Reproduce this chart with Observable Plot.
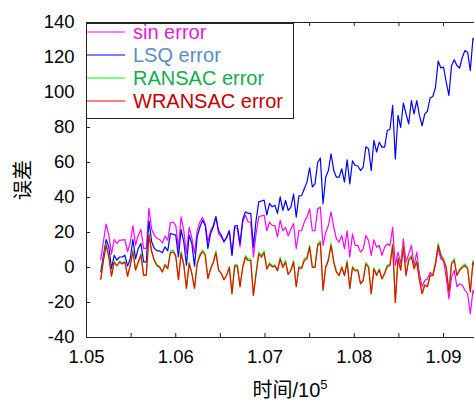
<!DOCTYPE html>
<html><head><meta charset="utf-8">
<script src="https://cdn.jsdelivr.net/npm/d3@7"></script>
<script src="https://cdn.jsdelivr.net/npm/@observablehq/plot@0.6"></script>
<style>
body{margin:0;background:#fff;}
#wrap{position:relative;width:474px;height:401px;overflow:hidden;font-family:"Liberation Sans",Arial,sans-serif;}
#legend{position:absolute;left:86px;top:23px;width:208px;height:96px;border:1px solid #222;background:#fff;box-sizing:border-box;}
.lrow{position:absolute;left:0;height:24px;display:flex;align-items:center;font-size:20px;white-space:nowrap;}
.lrow svg{display:block;margin-right:8px;}
#xlabel{position:absolute;top:380px;left:0;width:580px;text-align:center;font-size:20px;line-height:20px;font-family:"Liberation Sans","Noto Sans CJK SC",sans-serif;color:#000;}
#xlabel sup{font-size:13px;line-height:0;vertical-align:8px;}
#ylabel{position:absolute;left:22px;top:180px;transform:translate(-50%,-50%) rotate(-90deg);font-size:20px;line-height:20px;font-family:"Noto Sans CJK SC",sans-serif;color:#000;white-space:nowrap;}
</style></head><body><div id="wrap"></div>
<script>
// time grid (×10^5)
const t0 = 1.0516, dt = 0.0003;

const sinErr = [4.6, 15, 24.8, 18.5, 7.6, 16, 13.7, 15.6, 15.6, 16,
 9, 14, 24, 12.8, 18.5, 21.7, 10.9, 10.9, 34, 21.7,
 18.5, 16.6, 16, 14, 18, 15.6, 25.5, 26, 24, 11,
 29, 21, 8, 23, 17, 8, 21, 26, 28.6, 25,
 14.7, 21, 24, 29, 19.4, 17.5, 14.7, 17.5, 21, 7,
 23, 22, 11.8, 26, 30, 26, 26, 6, 19.4, 29,
 29.5, 30, 21, 26, 24, 24, 17.5, 27, 21, 23,
 18, 22, 25, 10.7, 21, 21, 26, 28.8, 33.5, 21,
 21, 33.5, 34.5, 12.6, 20, 24, 31.6, 23, 16.4, 14.5,
 18.3, 10.7, 21, 6, 19.2, 12.6, 12.6, 8.8, 10.7, 18.3,
 15.4, 6.9, 15.8, 11.6, 12.6, 6.9, 11.6, 13.5, 12.6, 23,
 1.1, 8.8, 2, 16.4, 3, 7.8, 12.6, 1.1, 8.8, -3.6,
 -11, -7.4, -6.5, -2.7, -4.6, 2, 10.7, 5, 4, -5.5,
 -18, -5.5, -1.7, -11, -9.3, -10, -13, -15, -26.5, -13,
 -16];

const lsqErr = [-2.5, 7, 16, 11.8, -0.6, 7, 4.2, 6, 6, 7,
 0.8, 5, 16, 5, 10.9, 13.7, 3.2, 3.2, 26.7, 14.7,
 10.9, 9.5, 9.5, 8.4, 11.8, 9.5, 19.4, 19, 18.5, 6,
 21.7, 14.7, 1.3, 18.5, 13.7, 0.8, 17.5, 23, 27, 24,
 10.9, 19.4, 23, 29, 21, 18.5, 14.7, 17, 21, 7,
 23.6, 24, 13.7, 27.4, 31.8, 30.9, 30.9, 11.8, 27, 37.5,
 38, 38.5, 30, 36.6, 34.7, 35.6, 30.9, 40.4, 32.6, 38.3,
 32.6, 34.5, 42, 28.8, 41, 41, 45, 48.8, 57, 46,
 47.8, 60, 62.5, 36.4, 51.6, 55.4, 65, 55.4, 51.6, 51.6,
 56.4, 48.8, 61.5, 47.8, 61, 58.3, 58, 55.4, 57.3, 69,
 67.8, 55.4, 72.6, 66, 71.6, 68.8, 68.8, 78.3, 79, 92.6,
 62, 86.9, 80, 94, 87.8, 82, 95.4, 87.8, 95.4, 86.9,
 81, 87.8, 89.3, 97, 97.7, 103, 118, 114, 114.5, 106,
 98.3, 115.4, 118.7, 115.4, 114, 120, 124, 123, 112.6, 131,
 128.8];

const ransacErr = [-6.7, 4.5, 13.8, 6.5, -5, 3.5, 1, 3.5, 2.5, 3.5,
 -5, 1.5, 10, -1.5, 3.5, 8, -4.4, -4.4, 19.5, 9.5,
 4.5, 1.5, 0.5, -2.5, 2, -0.6, 9.4, 10, 7, -7,
 9, 2, -12, 3, -3.4, -12, 2.8, 7.5, 10, 7.8,
 -6.3, -0.5, 3.5, 9.4, -1.5, -3.4, -7, -4.4, 0.5, -15,
 1.5, 1.5, -11, 0.5, 6.7, 5, 4.8, -16, -3, 8.6,
 7, 9.4, -0.5, 2.7, 1, 1.6, -1.5, 5.8, 0.6, 4,
 -4, -1.2, 4, -11, 0.6, 0, 5, 6, 12.6, 0.6,
 0.6, 13.6, 15, -13, 0.6, 5, 13.6, 3.8, -2.2, -4.6,
 0.6, -4.2, 4, -12, 0.6, -1.5, -1.2, -9.3, -7, 2.8,
 0.8, -15, -0.2, -4, -0.8, -6.5, -3, 1.4, 2, 13.6,
 -20, 6, -1.2, 12.6, -4, 5, 7, -0.2, 4, -7,
 -15, -10, -10.5, -4, -4, 2.8, 13.6, 7.8, 5, 0.6,
 -14, 3, 5, -4, -1, 0.8, 2, 0, -14, 4,
 0.8];

const wransacErr = [-6.7, 4, 12.8, 6, -5, 3, 1, 3, 2, 3,
 -5, 1, 9, -1.5, 3, 7, -4.4, -4.4, 18.5, 9,
 4, 1, 0, -2.5, 1.3, -0.6, 8.4, 9, 6.5, -7,
 8, 1.3, -12, 2.3, -3.4, -12, 2, 6.5, 9, 7,
 -6.3, -1, 2.7, 8.4, -1.5, -3.4, -7, -4.4, 0, -15,
 0.8, 0.8, -11, 0, 5.7, 4, 4, -16, -3.4, 7.6,
 6, 8.4, -1, 1.9, 0.4, 0.8, -1.9, 4.8, 0, 3,
 -4, -1.7, 3, -11, 0, -0.6, 4, 5, 11.6, 0,
 0, 12.6, 14, -13, 0, 4, 12.6, 3, -2.7, -4.6,
 0, -4.6, 3, -12, 0, -2, -1.7, -9.3, -7.4, 2,
 0, -15, -0.8, -4.6, -1.3, -6.5, -3.6, 0.6, 1.1, 12.6,
 -20, 5, -1.7, 11.6, -4.6, 4, 6, -0.8, 3, -7.4,
 -15, -10, -11, -4.6, -4.6, 2, 12.6, 6.9, 4, 0,
 -14, 2, 4, -4.6, -1.7, 0, 1, -0.6, -14, 3,
 0];

const seriesNames = ["sin error", "LSQ error", "RANSAC error", "WRANSAC error"];
const lineColors = ["#ff00ff", "#0000ff", "#00ff00", "#ff0000"];
const textColors = ["#e21ce2", "#5b8bc9", "#14ad4c", "#c00000"];
const xTicks = [1.05, 1.06, 1.07, 1.08, 1.09];
const xMinorTicks = [1.05, 1.055, 1.06, 1.065, 1.07, 1.075, 1.08, 1.085, 1.09];
const yTicks = [-40, -20, 0, 20, 40, 60, 80, 100, 120, 140];

const seriesData = [sinErr, lsqErr, ransacErr, wransacErr];
const rows = [];
seriesData.forEach((arr, k) => arr.forEach((v, i) => rows.push({t: t0 + i * dt, v, s: seriesNames[k]})));

const W = 474, H = 401, mL = 86, mR = 0, mT = 22, mB = 64;
const plotW = W - mL - mR, plotH = H - mT - mB, tickLen = 4;
const axisColor = "#222";

const chart = Plot.plot({
  width: W, height: H,
  marginLeft: mL, marginRight: mR, marginTop: mT, marginBottom: mB,
  x: {domain: [1.05, 1.09347]},
  y: {domain: [-40, 140]},
  color: {domain: seriesNames, range: lineColors},
  style: {fontFamily: '"Liberation Sans", Arial, sans-serif', fontSize: "18.5px", color: "#000", background: "#fff", overflow: "hidden"},
  marks: [
    Plot.lineY(rows, {x: "t", y: "v", z: "s", stroke: "s", strokeWidth: 1.2, clip: true}),
    Plot.ruleX(xMinorTicks, {insetTop: plotH - tickLen, stroke: axisColor}),
    Plot.ruleX(xMinorTicks, {insetBottom: plotH - tickLen, stroke: axisColor}),
    Plot.ruleY(yTicks, {insetRight: plotW - tickLen, stroke: axisColor}),
    Plot.ruleX([1.05], {stroke: axisColor}),
    Plot.ruleY([-40, 140], {stroke: axisColor}),
    Plot.axisX(xTicks, {tickSize: 0, tickPadding: 12, tickFormat: d3.format(".2f"), label: null, fontSize: 18.5}),
    Plot.axisY(yTicks, {tickSize: 0, tickPadding: 12, tickFormat: d => String(d), label: null, fontSize: 18.5})
  ]
});

const wrap = document.getElementById("wrap");
wrap.appendChild(chart);

// legend
const legend = document.createElement("div");
legend.id = "legend";
seriesNames.forEach((name, k) => {
  const row = document.createElement("div");
  row.className = "lrow";
  row.style.top = (-4 + k * 23) + "px";
  row.innerHTML = `<svg width="38" height="4"><line x1="0" x2="38" y1="2" y2="2" stroke="${lineColors[k]}" stroke-width="1.2"/></svg><span style="color:${textColors[k]}">${name}</span>`;
  legend.appendChild(row);
});
wrap.appendChild(legend);

const xl = document.createElement("div");
xl.id = "xlabel";
xl.innerHTML = "时间/10<sup>5</sup>";
wrap.appendChild(xl);

const yl = document.createElement("div");
yl.id = "ylabel";
yl.textContent = "误差";
wrap.appendChild(yl);
</script>
</body></html>
